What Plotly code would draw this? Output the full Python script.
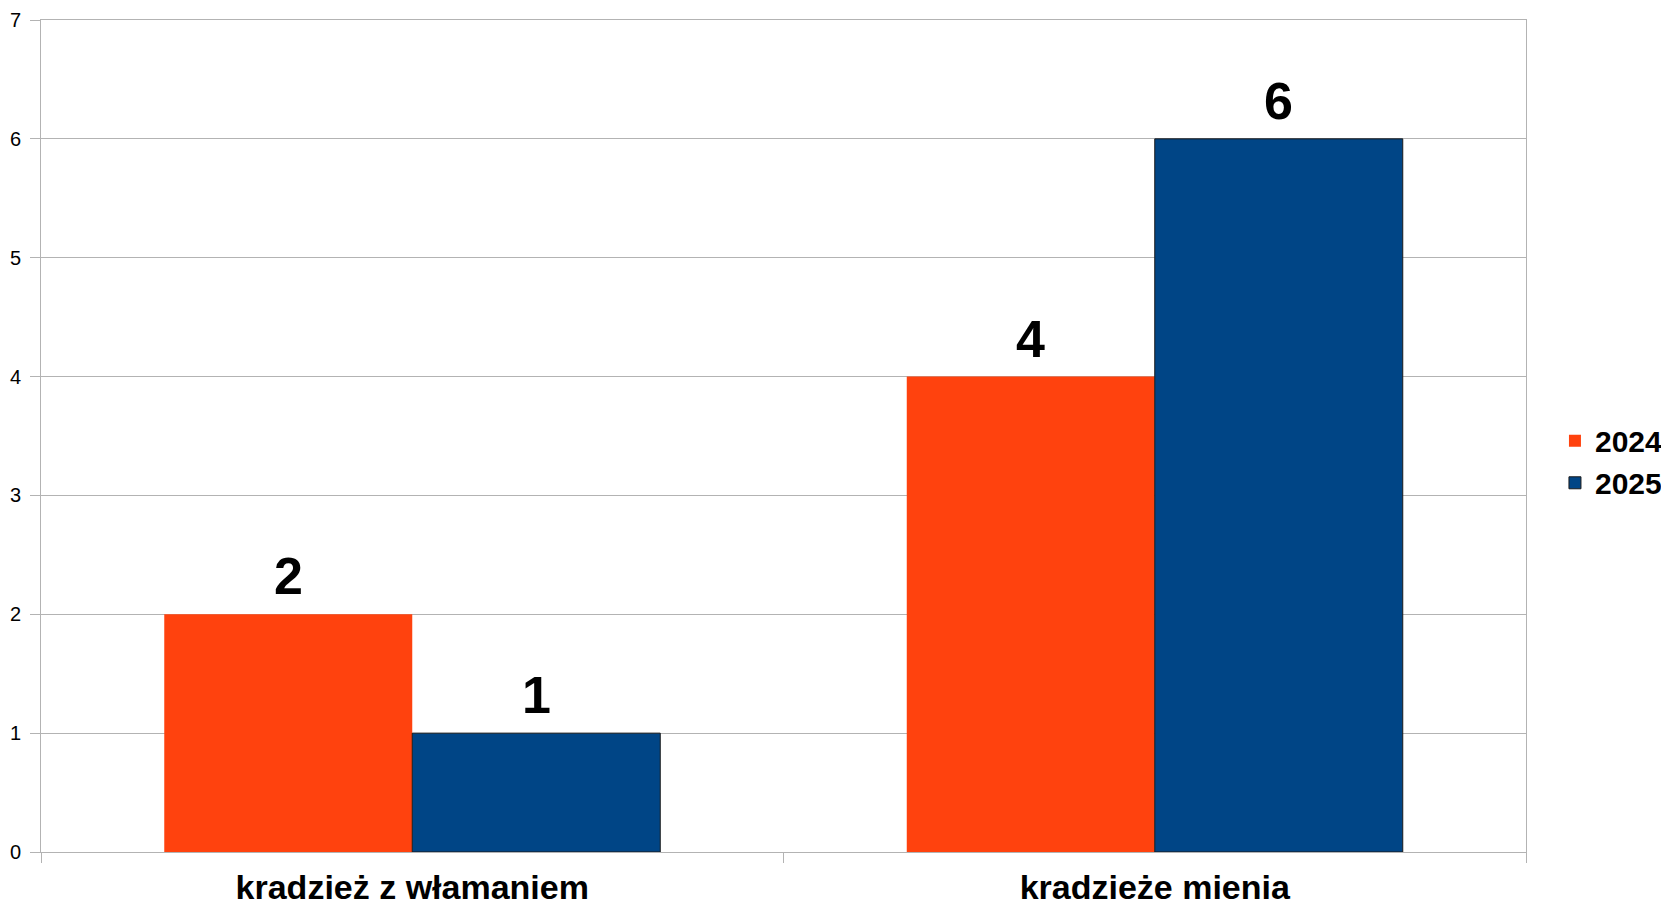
import plotly.graph_objects as go

categories = ["kradzież z włamaniem", "kradzieże mienia"]
series_names = ["2024", "2025"]
values_2024 = [2, 4]
values_2025 = [1, 6]
y_ticks = [0, 1, 2, 3, 4, 5, 6, 7]

colors = {"2024": "#ff420e", "2025": "#004586"}
FONT = "Liberation Sans, Arial, sans-serif"

# figure is placed 8px from the page corner by the default body margin
W, H = 1661, 897
ML, MR, MT, MB = 33, 143, 12, 53

fig = go.Figure()
fig.add_trace(go.Bar(name="<b>2024</b>", x=categories, y=values_2024,
                     marker=dict(color=colors["2024"], line=dict(width=0))))
fig.add_trace(go.Bar(name="<b>2025</b>", x=categories, y=values_2025,
                     marker=dict(color=colors["2025"], line=dict(width=1, color="#1a1a1a"))))

# data labels
plot_w = W - ML - MR
cat_w = plot_w / len(categories)
bargap = 0.332
bar_w = cat_w * (1 - bargap) / 2
for i, c in enumerate(categories):
    for vals, shift in ((values_2024, -bar_w / 2), (values_2025, bar_w / 2)):
        fig.add_annotation(x=c, y=vals[i], text=f"<b>{vals[i]}</b>", showarrow=False,
                           xshift=shift, yanchor="bottom", yshift=7,
                           font=dict(family=FONT, size=52, color="#000000"))

fig.update_layout(
    width=W, height=H,
    margin=dict(l=ML, r=MR, t=MT, b=MB, autoexpand=False),
    paper_bgcolor="white", plot_bgcolor="white",
    barmode="group", bargap=bargap, bargroupgap=0,
    font=dict(family=FONT, color="#000000"),
    showlegend=True,
    legend=dict(x=1.0195, y=0.469, xanchor="left", yanchor="middle",
                font=dict(family=FONT, size=30, color="#000000"),
                itemwidth=30, bgcolor="rgba(0,0,0,0)", borderwidth=0),
)
fig.update_xaxes(
    showline=True, linecolor="#b3b3b3", linewidth=1, mirror=True,
    ticks="outside", tickson="boundaries", ticklen=10, tickcolor="#b3b3b3",
    tickfont=dict(family=FONT, size=34, color="#000000"),
    tickvals=categories, ticktext=[f"<b>{c}</b>" for c in categories],
    ticklabelstandoff=5,
    showgrid=False,
)
fig.update_yaxes(
    range=[0, 7], tickvals=y_ticks, showgrid=True, gridcolor="#b3b3b3", gridwidth=1,
    showline=True, linecolor="#b3b3b3", linewidth=1, mirror=True,
    ticks="outside", ticklen=10, tickcolor="#b3b3b3",
    tickfont=dict(family=FONT, size=20, color="#000000"),
    ticklabelstandoff=5,
    zeroline=False,
)

fig.write_html("out.html")
